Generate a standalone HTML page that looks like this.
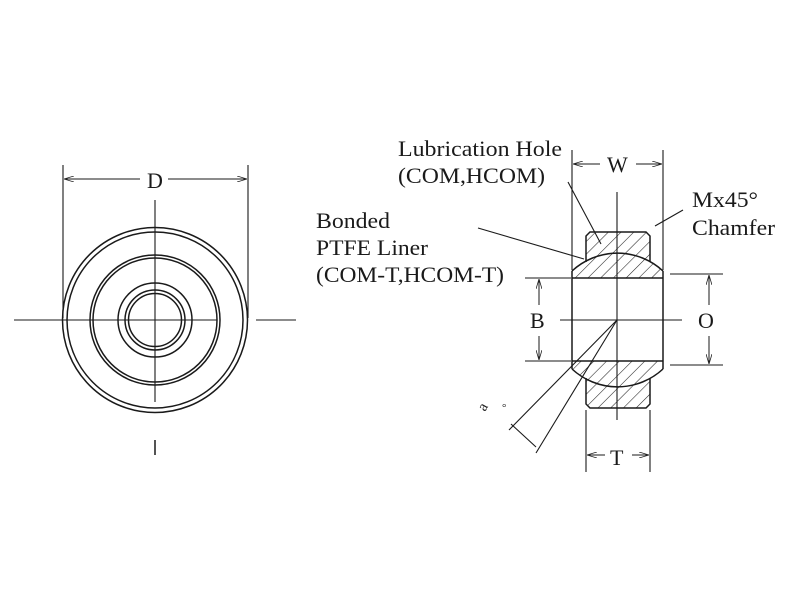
<!DOCTYPE html>
<html><head><style>body{margin:0;background:#fff}svg{display:block}text{font-family:"Liberation Serif",serif;fill:#1a1a1a}</style></head><body>
<svg width="800" height="600" viewBox="0 0 800 600" xmlns="http://www.w3.org/2000/svg">
<defs>
<pattern id="h" patternUnits="userSpaceOnUse" width="9" height="9" patternTransform="rotate(45)"><line x1="0" y1="0" x2="0" y2="9" stroke="#222" stroke-width="1.1"/></pattern>
<marker id="a" markerWidth="10" markerHeight="6" refX="10" refY="3" orient="auto"><path d="M0,0L10,3L0,6" fill="none" stroke="#222" stroke-width="0.8"/></marker>
<clipPath id="ring"><path d="M586,236 L590,232 L646,232 L650,236 L650,404 L646,408 L590,408 L586,404 Z"/></clipPath>
</defs>
<g stroke="#1a1a1a" fill="none" stroke-width="1.5">
<circle cx="155" cy="320" r="92.5"/><circle cx="155" cy="320" r="88"/>
<circle cx="155" cy="320" r="65"/><circle cx="155" cy="320" r="62"/>
<circle cx="155" cy="320" r="37"/><circle cx="155" cy="320" r="30"/><circle cx="155" cy="320" r="26.5"/>
<line x1="155" y1="200" x2="155" y2="402" stroke-width="1.1"/>
<line x1="14" y1="320" x2="217" y2="320" stroke-width="1.1"/>
<line x1="256" y1="320" x2="296" y2="320" stroke-width="1.1"/>
<line x1="63" y1="165" x2="63" y2="318" stroke-width="1.1"/>
<line x1="248" y1="165" x2="248" y2="318" stroke-width="1.1"/>
<line x1="140" y1="179" x2="64" y2="179" marker-end="url(#a)" stroke-width="1"/>
<line x1="168" y1="179" x2="247" y2="179" marker-end="url(#a)" stroke-width="1"/>
<line x1="155" y1="440" x2="155" y2="455" stroke-width="1.5"/>
<g clip-path="url(#ring)"><path d="M586,232 L650,232 L650,262 A67,67 0 0 0 586,262 Z" fill="url(#h)" stroke="none"/>
<path d="M586,408 L650,408 L650,378 A67,67 0 0 1 586,378 Z" fill="url(#h)" stroke="none"/></g>
<path d="M572,278 L572,271 A67,67 0 0 1 663,271 L663,278 Z" fill="url(#h)" stroke="none"/>
<path d="M572,361 L572,369 A67,67 0 0 0 663,369 L663,361 Z" fill="url(#h)" stroke="none"/>
<path d="M586,262 L586,236 L590,232 L646,232 L650,236 L650,262"/>
<path d="M586,378 L586,404 L590,408 L646,408 L650,404 L650,378"/>
<path d="M572,271 A67,67 0 0 1 663,271"/>
<path d="M572,369 A67,67 0 0 0 663,369"/>
<path d="M572,271 L572,369 M663,271 L663,369"/>
<path d="M572,278 L663,278 M572,361 L663,361" />
<line x1="617" y1="192" x2="617" y2="420" stroke-width="1.1"/>
<line x1="560" y1="320" x2="682" y2="320" stroke-width="1.1"/>
<line x1="572" y1="150" x2="572" y2="270" stroke-width="1.1"/>
<line x1="663" y1="150" x2="663" y2="270" stroke-width="1.1"/>
<line x1="600" y1="164" x2="573" y2="164" marker-end="url(#a)" stroke-width="1"/>
<line x1="636" y1="164" x2="662" y2="164" marker-end="url(#a)" stroke-width="1"/>
<line x1="586" y1="410" x2="586" y2="472" stroke-width="1.1"/>
<line x1="650" y1="410" x2="650" y2="472" stroke-width="1.1"/>
<line x1="605" y1="455" x2="587" y2="455" marker-end="url(#a)" stroke-width="1"/>
<line x1="632" y1="455" x2="649" y2="455" marker-end="url(#a)" stroke-width="1"/>
<line x1="525" y1="278" x2="571" y2="278" stroke-width="1.1"/>
<line x1="525" y1="361" x2="571" y2="361" stroke-width="1.1"/>
<line x1="539" y1="305" x2="539" y2="279" marker-end="url(#a)" stroke-width="1"/>
<line x1="539" y1="336" x2="539" y2="360" marker-end="url(#a)" stroke-width="1"/>
<line x1="670" y1="274" x2="723" y2="274" stroke-width="1.1"/>
<line x1="670" y1="365" x2="723" y2="365" stroke-width="1.1"/>
<line x1="709" y1="305" x2="709" y2="275" marker-end="url(#a)" stroke-width="1"/>
<line x1="709" y1="336" x2="709" y2="364" marker-end="url(#a)" stroke-width="1"/>
<line x1="568" y1="182" x2="601" y2="244" stroke-width="1.1"/>
<line x1="478" y1="228" x2="584" y2="259" stroke-width="1.1"/>
<line x1="683" y1="210" x2="655" y2="226" stroke-width="1.1"/>
<line x1="617" y1="320" x2="509" y2="430" stroke-width="1.1"/>
<line x1="617" y1="320" x2="536" y2="453" stroke-width="1.1"/>
<line x1="511" y1="424" x2="536" y2="447" stroke-width="1.1"/>
</g>
<g font-size="22">
<text x="398" y="156" textLength="164" lengthAdjust="spacingAndGlyphs">Lubrication Hole</text>
<text x="398" y="183" textLength="147" lengthAdjust="spacingAndGlyphs">(COM,HCOM)</text>
<text x="607" y="172">W</text>
<text x="692" y="207" textLength="66" lengthAdjust="spacingAndGlyphs">Mx45°</text>
<text x="692" y="235" textLength="83" lengthAdjust="spacingAndGlyphs">Chamfer</text>
<text x="316" y="228" textLength="74" lengthAdjust="spacingAndGlyphs">Bonded</text>
<text x="316" y="255" textLength="112" lengthAdjust="spacingAndGlyphs">PTFE Liner</text>
<text x="316" y="282" textLength="188" lengthAdjust="spacingAndGlyphs">(COM-T,HCOM-T)</text>
<text x="530" y="328">B</text>
<text x="698" y="328">O</text>
<text x="610" y="465">T</text>
<text x="147" y="188">D</text>
<text x="0" y="0" font-size="15" transform="translate(485,412) rotate(-60)">a</text>
<text x="502" y="411" font-size="11">°</text>
</g>
</svg>
</body></html>
